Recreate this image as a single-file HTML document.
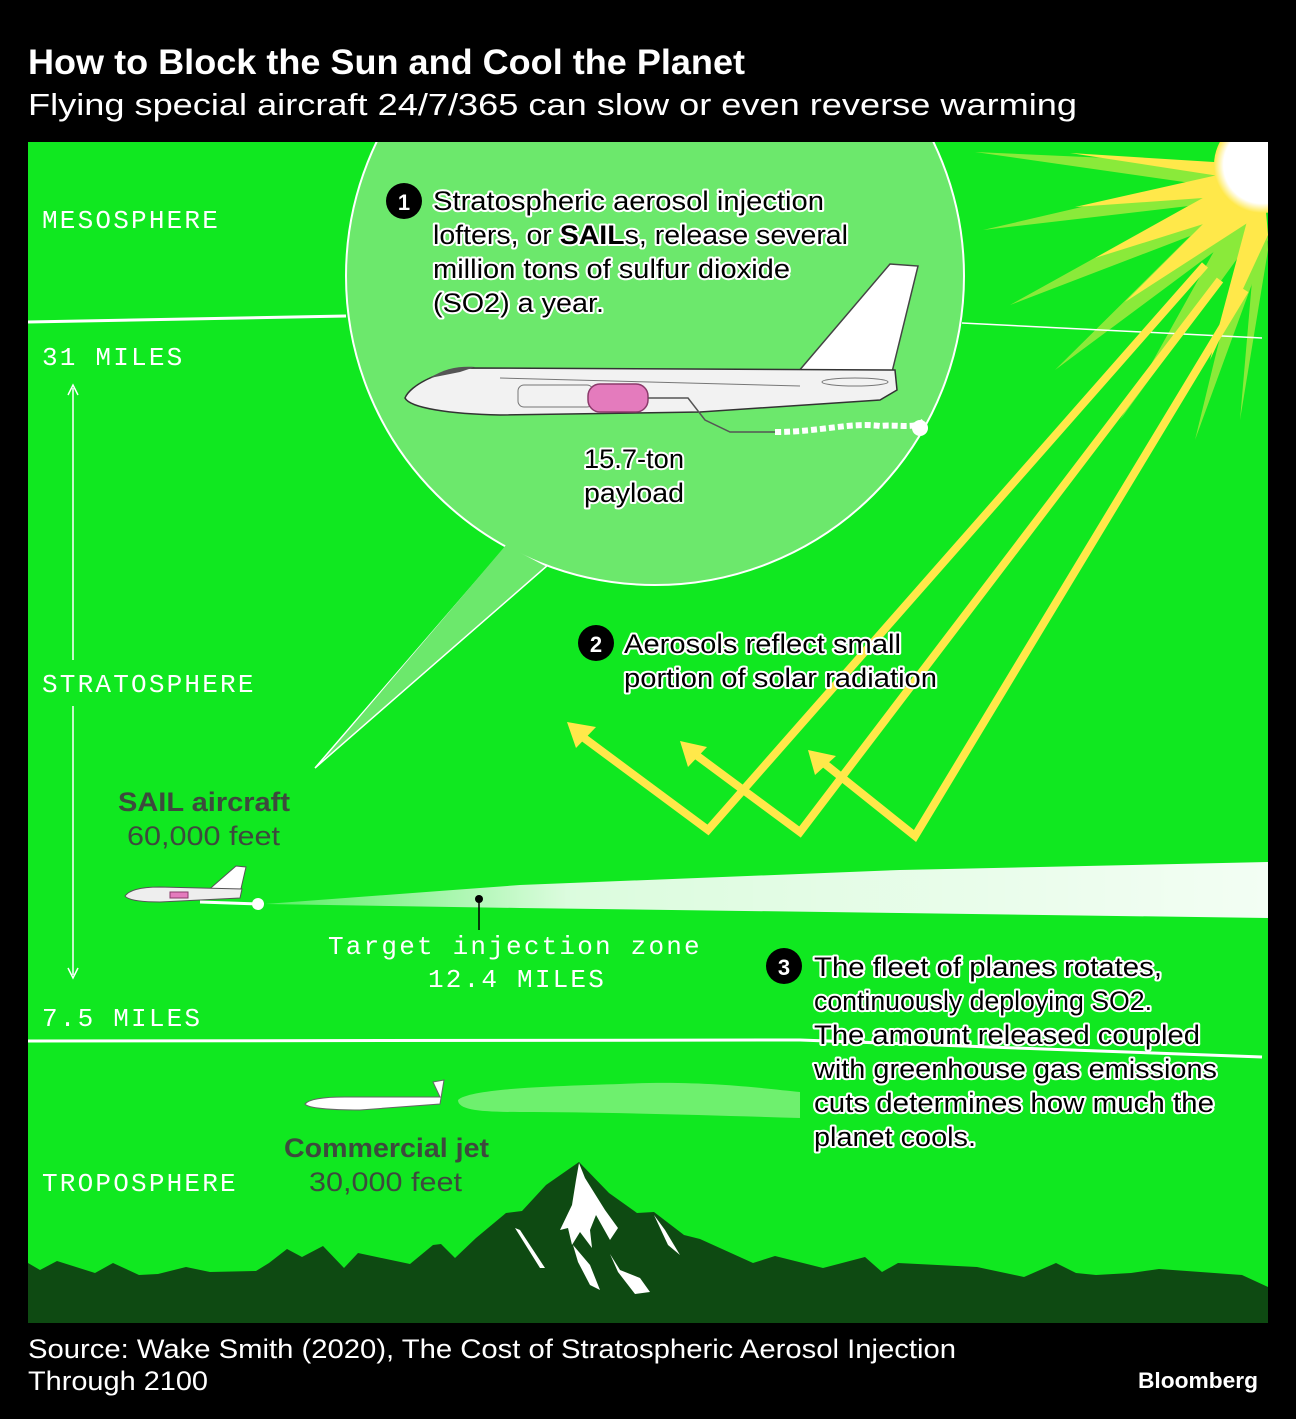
<!DOCTYPE html>
<html><head><meta charset="utf-8"><style>
html,body{margin:0;padding:0;background:#000;}
body{width:1296px;height:1414px;overflow:hidden;font-family:"Liberation Sans",sans-serif;}
svg text{font-family:"Liberation Sans",sans-serif;}
.mono{font-family:"Liberation Mono",monospace;font-size:26px;fill:#fff;letter-spacing:2.2px;}
.lab{font-size:27px;fill:#000;stroke:#fff;stroke-width:4px;paint-order:stroke;stroke-linejoin:round;}
.grey{font-size:27px;fill:#3d4a3d;}
</style></head><body>
<svg width="1296" height="1414" viewBox="0 0 1296 1414" xmlns="http://www.w3.org/2000/svg">
<defs>
<radialGradient id="sun" cx="0.5" cy="0.5" r="0.5">
<stop offset="0.8" stop-color="#fff"/><stop offset="1" stop-color="#ffe84a"/></radialGradient>
<linearGradient id="plume" x1="0" x2="1" y1="0" y2="0">
<stop offset="0" stop-color="#fff" stop-opacity="0.3"/><stop offset="0.3" stop-color="#fff" stop-opacity="0.85"/><stop offset="1" stop-color="#fff" stop-opacity="0.95"/></linearGradient>
<clipPath id="panel"><rect x="28" y="142" width="1240" height="1181"/></clipPath>
</defs>
<text x="28" y="74" font-size="35" font-weight="bold" fill="#fff" textLength="717" lengthAdjust="spacingAndGlyphs">How to Block the Sun and Cool the Planet</text>
<text x="28" y="115" font-size="31" fill="#fff" textLength="1049" lengthAdjust="spacingAndGlyphs">Flying special aircraft 24/7/365 can slow or even reverse warming</text>

<rect x="28" y="142" width="1240" height="1181" fill="#10e820"/>
<g clip-path="url(#panel)">
<g fill="#8aea3a">
<polygon points="1262,165 975,152 1240,190"/>
<polygon points="1262,165 983,230 1240,200"/>
<polygon points="1262,165 1010,305 1245,215"/>
<polygon points="1262,165 1055,370 1250,225"/>
<polygon points="1262,165 1120,420 1258,230"/>
<polygon points="1262,165 1195,440 1268,240"/>
<polygon points="1262,165 1240,420 1268,250"/>
</g>
<g fill="#ffe84a">
<polygon points="1262,165 1070,153 1245,180"/>
<polygon points="1262,165 1075,207 1245,195"/>
<polygon points="1262,165 1095,258 1248,210"/>
<polygon points="1262,165 1125,302 1252,220"/>
<polygon points="1262,165 1210,360 1268,235"/>
</g>
<circle cx="1262" cy="165" r="48" fill="url(#sun)"/>
<path d="M28,322 L346,316" stroke="#fff" stroke-width="3" fill="none"/>
<path d="M962,323 L1262,338" stroke="#fff" stroke-width="1.5" fill="none"/>
<path d="M28,1041 L800,1040 L1262,1057" stroke="#fff" stroke-width="3" fill="none"/>
<g stroke="#ffe84a" stroke-width="8" fill="none" stroke-linejoin="miter">
<path d="M1205,265 L708,830 L580,735"/>
<path d="M1220,280 L800,832 L692,752"/>
<path d="M1245,290 L915,836 L820,760"/>
</g>
<g fill="#ffe84a">
<polygon points="567,722 596,727 576,748"/>
<polygon points="680,741 707,747 688,767"/>
<polygon points="808,750 836,756 815,775"/>
</g>
<polygon points="505,548 548,565 315,768" fill="#6ce86c" stroke="#fff" stroke-width="1.5"/>
<circle cx="655" cy="276" r="309" fill="#6ce86c" stroke="#fff" stroke-width="2"/>
<polygon points="506,545 545,566 330,752" fill="#6ce86c"/>
<g>
<path d="M798,372 L890,264 L918,266 L892,372 Z" fill="#fff" stroke="#444" stroke-width="1.5"/>
<path d="M405,398 C410,385 440,370 470,368 L895,370 L897,390 L880,400 L700,412 L500,415 C450,414 410,408 405,398 Z" fill="#f2f2f2" stroke="#333" stroke-width="1.5"/>
<path d="M430,378 C445,368 460,366 475,367 L460,372 Z" fill="#555"/>
<path d="M500,378 L800,386" stroke="#777" stroke-width="1" fill="none"/>
<rect x="518" y="385" width="75" height="22" rx="6" fill="none" stroke="#777"/>
<rect x="588" y="384" width="60" height="28" rx="12" fill="#e47bbd" stroke="#8b3a6b" stroke-width="1.5"/>
<ellipse cx="855" cy="382" rx="33" ry="4" fill="none" stroke="#777"/>
<path d="M648,398 L688,398 L705,420 L730,432 L775,432" stroke="#555" stroke-width="1.5" fill="none"/>
<path d="M775,432 C820,432 850,422 880,426 C900,424 915,430 925,420" stroke="#fff" stroke-width="6" fill="none" stroke-dasharray="6 3"/>
<circle cx="920" cy="428" r="8" fill="#fff"/>
</g>
<polygon points="265,904 520,885 900,870 1268,862 1268,918 900,913 520,908" fill="url(#plume)"/>
<circle cx="258" cy="904" r="6" fill="#fff"/>
<path d="M200,902 L258,904" stroke="#fff" stroke-width="3"/>
<path d="M205,893 L236,866 L246,867 L240,893 Z" fill="#fff" stroke="#555"/>
<path d="M125,896 C130,889 145,887 160,887 L242,889 L240,898 L160,902 C140,902 128,900 125,896 Z" fill="#eee" stroke="#555"/>
<rect x="170" y="892" width="18" height="6" fill="#e47bbd" stroke="#8b3a6b"/>
<circle cx="479" cy="899" r="4" fill="#000"/><path d="M479,899 V930" stroke="#000" stroke-width="1.5"/>
<path d="M458,1100 C470,1088 560,1086 620,1084 C700,1080 760,1088 800,1092 L800,1118 C700,1115 600,1112 520,1112 C480,1112 458,1110 458,1100 Z" fill="#6ef06e"/>
<path d="M305,1104 C310,1098 330,1097 345,1097 L440,1097 L433,1082 L444,1080 L440,1104 L360,1110 C330,1110 308,1108 305,1104 Z" fill="#fff" stroke="#666" stroke-width="1"/>
<polygon fill="#0e4a12" points="28,1263 40,1270 57,1261 95,1273 113,1263 139,1275 158,1274 186,1267 210,1272 256,1271 269,1263 287,1249 302,1257 323,1246 344,1268 358,1253 410,1264 433,1245 441,1244 455,1258 476,1238 506,1213 522,1211 546,1185 579,1162 609,1193 637,1213 654,1212 684,1235 700,1239 753,1263 775,1256 823,1268 865,1257 882,1272 898,1263 977,1267 1024,1277 1056,1263 1076,1273 1096,1275 1131,1273 1159,1269 1242,1275 1268,1287 1268,1323 28,1323"/>
<g fill="#fff">
<polygon points="579,1163 585,1178 605,1210 618,1228 610,1240 596,1215 590,1230 592,1248 580,1232 572,1245 568,1228 560,1230 572,1205 576,1180"/>
<polygon points="515,1228 520,1230 545,1268 540,1268"/>
<polygon points="573,1245 590,1265 600,1290 590,1285 578,1262"/>
<polygon points="610,1254 620,1270 640,1278 650,1292 635,1294 618,1272"/>
<polygon points="654,1215 665,1230 680,1255 668,1245"/>
</g>
</g>
<path d="M73,388 V660 M73,706 V975" stroke="#fff" stroke-width="1.5"/>
<path d="M68,395 L73,385 L78,395 M68,968 L73,978 L78,968" stroke="#fff" stroke-width="1.5" fill="none"/>
<text class="mono" x="42" y="228">MESOSPHERE</text>
<text class="mono" x="42" y="365">31 MILES</text>
<text class="mono" x="42" y="692">STRATOSPHERE</text>
<text class="mono" x="42" y="1026">7.5 MILES</text>
<text class="mono" x="42" y="1191">TROPOSPHERE</text>
<text class="mono" x="328" y="954">Target injection zone</text>
<text class="mono" x="428" y="987">12.4 MILES</text>
<circle cx="404" cy="201" r="18" fill="#000"/><text x="404" y="210" text-anchor="middle" font-size="22" font-weight="bold" fill="#fff">1</text>
<text class="lab" x="433" y="210" textLength="391" lengthAdjust="spacingAndGlyphs">Stratospheric aerosol injection</text>
<text class="lab" x="433" y="244" textLength="415" lengthAdjust="spacingAndGlyphs">lofters, or <tspan font-weight="bold">SAIL</tspan>s, release several</text>
<text class="lab" x="433" y="278" textLength="357" lengthAdjust="spacingAndGlyphs">million tons of sulfur dioxide</text>
<text class="lab" x="433" y="312" textLength="171" lengthAdjust="spacingAndGlyphs">(SO2) a year.</text>
<text class="lab" x="584" y="468" textLength="100" lengthAdjust="spacingAndGlyphs">15.7-ton</text>
<text class="lab" x="584" y="502" textLength="100" lengthAdjust="spacingAndGlyphs">payload</text>
<circle cx="596" cy="643" r="18" fill="#000"/><text x="596" y="652" text-anchor="middle" font-size="22" font-weight="bold" fill="#fff">2</text>
<text class="lab" x="624" y="653" textLength="277" lengthAdjust="spacingAndGlyphs">Aerosols reflect small</text>
<text class="lab" x="624" y="687" textLength="313" lengthAdjust="spacingAndGlyphs">portion of solar radiation</text>
<circle cx="784" cy="966" r="18" fill="#000"/><text x="784" y="975" text-anchor="middle" font-size="22" font-weight="bold" fill="#fff">3</text>
<text class="lab" x="814" y="976" textLength="348" lengthAdjust="spacingAndGlyphs">The fleet of planes rotates,</text>
<text class="lab" x="814" y="1010" textLength="338" lengthAdjust="spacingAndGlyphs">continuously deploying SO2.</text>
<text class="lab" x="814" y="1044" textLength="386" lengthAdjust="spacingAndGlyphs">The amount released coupled</text>
<text class="lab" x="814" y="1078" textLength="403" lengthAdjust="spacingAndGlyphs">with greenhouse gas emissions</text>
<text class="lab" x="814" y="1112" textLength="400" lengthAdjust="spacingAndGlyphs">cuts determines how much the</text>
<text class="lab" x="814" y="1146" textLength="162" lengthAdjust="spacingAndGlyphs">planet cools.</text>
<text class="grey" x="118" y="811" font-weight="bold" textLength="172" lengthAdjust="spacingAndGlyphs">SAIL aircraft</text>
<text class="grey" x="127" y="845" textLength="153" lengthAdjust="spacingAndGlyphs">60,000 feet</text>
<text class="grey" x="284" y="1157" font-weight="bold" textLength="205" lengthAdjust="spacingAndGlyphs">Commercial jet</text>
<text class="grey" x="309" y="1191" textLength="153" lengthAdjust="spacingAndGlyphs">30,000 feet</text>
<text x="28" y="1358" font-size="27" fill="#fff" textLength="928" lengthAdjust="spacingAndGlyphs">Source: Wake Smith (2020), The Cost of Stratospheric Aerosol Injection</text>
<text x="28" y="1390" font-size="27" fill="#fff" textLength="180" lengthAdjust="spacingAndGlyphs">Through 2100</text>
<text x="1138" y="1388" font-size="22" font-weight="bold" fill="#fff" textLength="120" lengthAdjust="spacingAndGlyphs">Bloomberg</text>
</svg>
</body></html>
